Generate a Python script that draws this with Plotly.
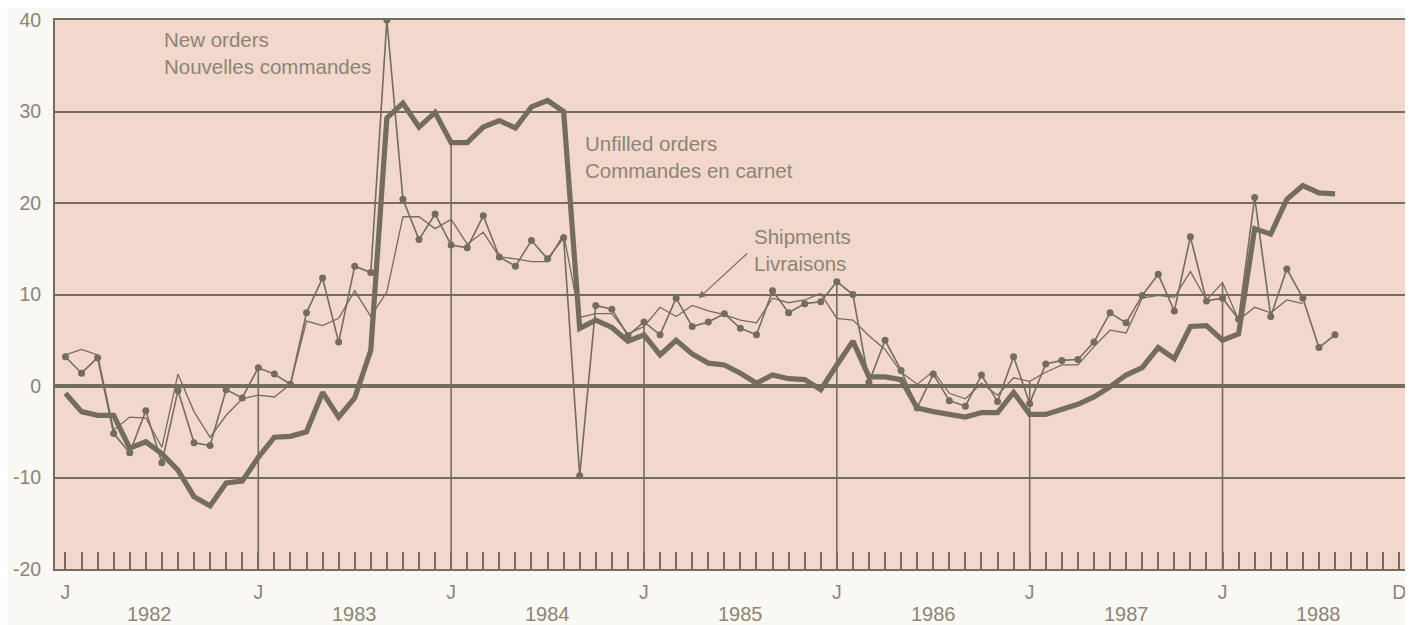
import plotly.graph_objects as go

# ---- data (monthly, Jan 1982 = index 0) ----
unfilled_orders = [
    -0.8, -2.8, -3.2, -3.2, -6.8, -6.1, -7.4, -9.2, -12.1, -13.1, -10.6, -10.4,   # 1982
    -7.8, -5.6, -5.5, -5.0, -0.7, -3.4, -1.3, 3.9, 29.3, 30.9, 28.3, 29.9,         # 1983
    26.6, 26.6, 28.3, 29.0, 28.2, 30.5, 31.2, 30.0, 6.3, 7.2, 6.4, 4.9,            # 1984
    5.6, 3.4, 5.0, 3.5, 2.5, 2.3, 1.4, 0.3, 1.2, 0.8, 0.7, -0.4,                   # 1985
    2.3, 4.9, 1.0, 1.0, 0.7, -2.4, -2.8, -3.1, -3.4, -2.9, -2.9, -0.7,             # 1986
    -3.1, -3.1, -2.6, -2.0, -1.2, -0.1, 1.2, 2.0, 4.2, 3.0, 6.5, 6.6,              # 1987
    5.0, 5.7, 17.2, 16.6, 20.4, 21.9, 21.1, 21.0,                                  # 1988
]
new_orders = [
    3.2, 1.4, 3.1, -5.2, -7.3, -2.7, -8.4, -0.5, -6.2, -6.5, -0.4, -1.3,
    2.0, 1.3, 0.2, 8.0, 11.8, 4.8, 13.1, 12.4, 40.0, 20.4, 16.0, 18.8,
    15.4, 15.1, 18.6, 14.1, 13.1, 15.9, 13.9, 16.2, -9.8, 8.8, 8.4, 5.5,
    7.0, 5.6, 9.6, 6.5, 7.0, 7.9, 6.3, 5.6, 10.4, 8.0, 9.0, 9.2,
    11.4, 10.0, 0.4, 5.0, 1.7, -2.4, 1.3, -1.6, -2.2, 1.2, -1.7, 3.2,
    -1.9, 2.4, 2.8, 2.9, 4.8, 8.0, 6.9, 9.9, 12.2, 8.2, 16.3, 9.3,
    9.6, 7.3, 20.6, 7.6, 12.8, 9.6, 4.2, 5.6,
]
shipments = [
    3.4, 4.0, 3.4, -4.8, -3.4, -3.5, -6.7, 1.3, -2.8, -5.6, -3.2, -1.4,
    -1.0, -1.2, 0.2, 7.1, 6.6, 7.4, 10.4, 7.6, 10.3, 18.5, 18.5, 17.2,
    18.2, 15.5, 16.8, 14.1, 13.9, 13.6, 13.6, 16.6, 7.5, 7.9, 7.9, 5.7,
    6.5, 8.6, 7.6, 8.8, 8.2, 7.8, 7.2, 6.9, 9.6, 9.1, 9.4, 10.1,
    7.4, 7.2, 5.5, 4.0, 1.5, 0.2, 1.6, -0.8, -1.4, 0.3, -1.0, 0.9,
    0.5, 1.5, 2.3, 2.3, 4.3, 6.1, 5.8, 9.6, 9.9, 9.7, 12.5, 9.4,
    11.3, 7.2, 8.6, 8.0, 9.4, 9.0,
]
years = ["1982", "1983", "1984", "1985", "1986", "1987", "1988"]
year_label_pos = [5.2, 18, 30, 42, 54, 66, 78]   # month index under which each year is written
y_ticks = [-20, -10, 0, 10, 20, 30, 40]
n_months = 12 * len(years)  # Jan 1982 .. Dec 1988

LINE = "#746c5d"
TEXT = "#8c8574"
PLOT_BG = "#f2d8cc"
PAPER_BG = "#f9f8f4"
FONT = "Liberation Sans, Arial, sans-serif"
FS = 19.5
FS_NOTE = 20.5
FS_YEAR = 20

months = list(range(n_months))
x_no = list(range(len(new_orders)))
x_sh = list(range(len(shipments)))
x_uo = list(range(len(unfilled_orders)))

# tick labels: J for each January, D at the final December
tick_text = []
for m in months:
    if m % 12 == 0:
        tick_text.append("J")
    elif m == n_months - 1:
        tick_text.append("D")
    else:
        tick_text.append("")

# vertical drop lines at each January (after the first) from the highest series value
ymin = y_ticks[0]
drop_x, drop_y = [], []
for m in range(12, n_months, 12):
    vals = [s[m] for s in (new_orders, shipments, unfilled_orders) if m < len(s)]
    if vals:
        top = max(vals)
        drop_x += [m, m, None]
        drop_y += [top, ymin, None]

fig = go.Figure()
fig.add_trace(go.Scatter(x=drop_x, y=drop_y, mode="lines",
                         line=dict(color=LINE, width=1.6), hoverinfo="skip",
                         showlegend=False))
fig.add_trace(go.Scatter(x=x_sh, y=shipments, mode="lines", name="Shipments",
                         line=dict(color=LINE, width=1.3), showlegend=False))
fig.add_trace(go.Scatter(x=x_no, y=new_orders, mode="lines+markers", name="New orders",
                         line=dict(color=LINE, width=1.6),
                         marker=dict(color=LINE, size=7), showlegend=False))
fig.add_trace(go.Scatter(x=x_uo, y=unfilled_orders, mode="lines", name="Unfilled orders",
                         line=dict(color=LINE, width=5.2), showlegend=False))

annotations = []
for pos, yr in zip(year_label_pos, years):
    annotations.append(dict(x=pos, y=0, xref="x", yref="paper", text=yr,
                            showarrow=False, yanchor="top", yshift=-32,
                            font=dict(family=FONT, size=FS_YEAR, color=TEXT)))

annotations += [
    dict(x=6.0, y=39.3, xref="x", yref="y", xanchor="left", yanchor="top",
         text="New orders<br>Nouvelles commandes", showarrow=False, align="left",
         font=dict(family=FONT, size=FS_NOTE, color=TEXT)),
    dict(x=32.2, y=28.0, xref="x", yref="y", xanchor="left", yanchor="top",
         text="Unfilled orders<br>Commandes en carnet", showarrow=False, align="left",
         font=dict(family=FONT, size=FS_NOTE, color=TEXT)),
    dict(x=42.7, y=17.8, xref="x", yref="y", xanchor="left", yanchor="top",
         text="Shipments<br>Livraisons", showarrow=False, align="left",
         font=dict(family=FONT, size=FS_NOTE, color=TEXT)),
    dict(x=39.4, y=9.6, xref="x", yref="y", text="", showarrow=True,
         ax=50, ay=-46, arrowhead=2, arrowsize=1.2, arrowwidth=1.2,
         arrowcolor=LINE),
]

# the page body adds an 8px offset; the plot runs off the right edge like the original
fig.update_layout(
    width=1413, height=617,
    margin=dict(l=47, r=0, t=12, b=56),
    paper_bgcolor=PAPER_BG, plot_bgcolor=PLOT_BG,
    font=dict(family=FONT, size=FS, color=TEXT),
    annotations=annotations,
    showlegend=False,
)
fig.update_xaxes(
    range=[-0.65, 84.35], tickmode="array", tickvals=months, ticktext=tick_text,
    ticks="inside", ticklen=17, tickwidth=1.6, tickcolor=LINE,
    showgrid=False, zeroline=False, showline=True, linecolor=LINE, linewidth=2,
    mirror=True, ticklabelstandoff=5,
    tickfont=dict(family=FONT, size=FS, color=TEXT),
)
fig.update_yaxes(
    range=[y_ticks[0], y_ticks[-1]], tickmode="array", tickvals=y_ticks,
    ticktext=[str(v) for v in y_ticks], ticks="",
    showgrid=True, gridcolor=LINE, gridwidth=1.5,
    zeroline=True, zerolinecolor=LINE, zerolinewidth=3.5,
    showline=True, linecolor=LINE, linewidth=2, ticklabelstandoff=8,
    tickfont=dict(family=FONT, size=FS, color=TEXT),
)

fig.write_html("out.html")
